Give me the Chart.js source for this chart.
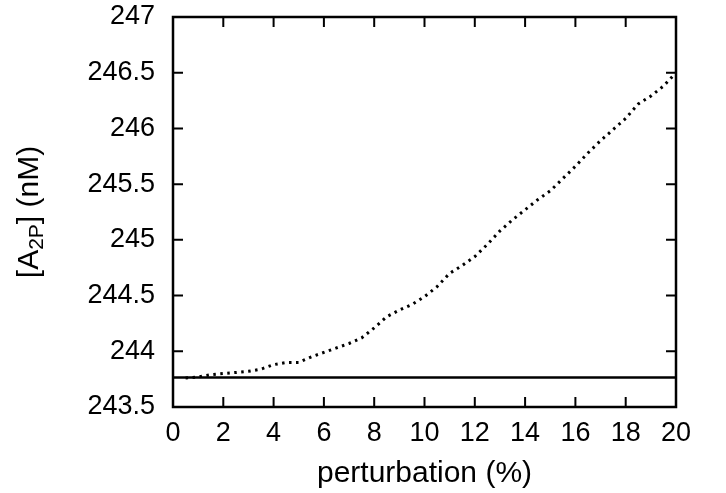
<!DOCTYPE html>
<html>
<head>
<meta charset="utf-8">
<script src="https://cdn.jsdelivr.net/npm/chart.js@4.4.0/dist/chart.umd.min.js"></script>
<style>
  html, body { margin: 0; padding: 0; background: #fff; }
  #wrap { width: 726px; height: 493px; }
</style>
</head>
<body>
<div id="wrap"><canvas id="chart" width="726" height="493"></canvas></div>
<script>
// Data
const perturbation = [0.5, 1, 1.5, 2, 2.5, 3, 3.5, 4, 4.5, 5, 5.5, 6, 6.5, 7, 7.5, 8, 8.5, 9, 9.5, 10,
  10.5, 11, 11.5, 12, 12.5, 13, 13.5, 14, 14.5, 15, 15.5, 16, 16.5, 17, 17.5, 18, 18.5, 19, 19.5, 20];
const a2p = [243.76, 243.77, 243.79, 243.80, 243.81, 243.82, 243.84, 243.88, 243.90, 243.90,
  243.95, 243.99, 244.03, 244.07, 244.12, 244.21, 244.31, 244.37, 244.42, 244.49,
  244.58, 244.70, 244.77, 244.85, 244.96, 245.08, 245.18, 245.27, 245.36, 245.44,
  245.55, 245.66, 245.78, 245.89, 245.99, 246.09, 246.22, 246.29, 246.38, 246.50];
const baselineX = [0, 20];
const baselineY = [243.765, 243.765];
const xTicks = [0, 2, 4, 6, 8, 10, 12, 14, 16, 18, 20];
const yTicks = [243.5, 244, 244.5, 245, 245.5, 246, 246.5, 247];

const FONT = "'Liberation Sans', Arial, sans-serif";

// frame + inward ticks on all four sides, plus the y title with subscript
const framePlugin = {
  id: 'frame',
  afterDatasetsDraw(chart) {
    const { ctx, chartArea: a, scales } = chart;
    const len = 10;
    ctx.save();
    ctx.strokeStyle = '#000';
    ctx.lineWidth = 2;
    ctx.beginPath();
    xTicks.forEach(v => {
      const px = scales.x.getPixelForValue(v);
      ctx.moveTo(px, a.bottom); ctx.lineTo(px, a.bottom - len);
      ctx.moveTo(px, a.top); ctx.lineTo(px, a.top + len);
    });
    yTicks.forEach(v => {
      const py = scales.y.getPixelForValue(v);
      ctx.moveTo(a.left, py); ctx.lineTo(a.left + len, py);
      ctx.moveTo(a.right, py); ctx.lineTo(a.right - len, py);
    });
    ctx.stroke();
    ctx.lineWidth = 2.5;
    ctx.strokeRect(a.left, a.top, a.right - a.left, a.bottom - a.top);

    // y axis title: [A2P] (nM)
    const big = '30px ' + FONT, small = '21px ' + FONT;
    const parts = [['[A', big, 0], ['2P', small, 7], ['] (nM)', big, 0]];
    let total = 0;
    parts.forEach(p => { ctx.font = p[1]; total += ctx.measureText(p[0]).width; });
    ctx.translate(30, (a.top + a.bottom) / 2);
    ctx.rotate(-Math.PI / 2);
    ctx.fillStyle = '#000';
    ctx.textBaseline = 'middle';
    ctx.textAlign = 'left';
    let x = -total / 2;
    parts.forEach(p => {
      ctx.font = p[1];
      ctx.fillText(p[0], x, p[2]);
      x += ctx.measureText(p[0]).width;
    });
    ctx.restore();
  }
};

new Chart(document.getElementById('chart'), {
  type: 'line',
  data: {
    datasets: [
      {
        data: perturbation.map((p, i) => ({ x: p, y: a2p[i] })),
        borderColor: '#000',
        borderWidth: 3,
        borderDash: [2.5, 4.5],
        pointRadius: 0,
        tension: 0
      },
      {
        data: baselineX.map((p, i) => ({ x: p, y: baselineY[i] })),
        borderColor: '#000',
        borderWidth: 2.5,
        pointRadius: 0
      }
    ]
  },
  options: {
    responsive: false,
    animation: false,
    layout: { padding: { top: 17, right: 50, left: 0, bottom: 0 } },
    plugins: { legend: { display: false }, tooltip: { enabled: false } },
    scales: {
      x: {
        type: 'linear',
        min: 0, max: 20,
        afterBuildTicks: s => { s.ticks = xTicks.map(v => ({ value: v })); },
        afterFit: s => { s.height = 86; s.paddingLeft = 0; s.paddingRight = 0; },
        grid: { display: false, drawTicks: false },
        border: { display: false },
        ticks: { color: '#000', font: { family: FONT, size: 27 }, padding: 10, maxRotation: 0 },
        title: { display: true, text: 'perturbation (%)', color: '#000',
                 font: { family: FONT, size: 30 }, padding: { top: 0, bottom: 1 } }
      },
      y: {
        min: 243.5, max: 247,
        afterBuildTicks: s => { s.ticks = yTicks.map(v => ({ value: v })); },
        afterFit: s => { s.width = 173; s.paddingTop = 0; s.paddingBottom = 0; },
        grid: { display: false, drawTicks: false },
        border: { display: false },
        ticks: { color: '#000', font: { family: FONT, size: 27 }, padding: 18,
                 callback: v => String(Number(v.toFixed(1))) }
      }
    }
  },
  plugins: [framePlugin]
});
</script>
</body>
</html>
